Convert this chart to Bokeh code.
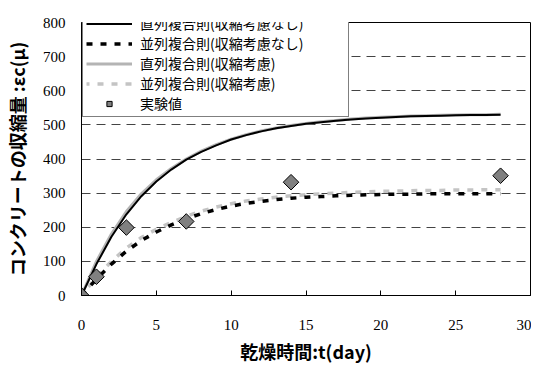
import numpy as np
from bokeh.plotting import figure
from bokeh.models import Legend, LegendItem, FixedTicker
from bokeh.embed import file_html
from bokeh.resources import INLINE

days = list(range(29))
series_no_shrink = [0, 92, 172, 238, 291, 334, 369, 398, 421, 440, 457, 470, 481, 490, 497,
                    503, 508, 512, 516, 519, 521, 523, 525, 526, 527, 528, 529, 529, 530]
parallel_no_shrink = [0, 48, 92, 130, 161, 186, 207, 225, 240, 252, 262, 270, 276, 281, 285,
                      288, 290, 292, 294, 295, 296, 297, 297, 298, 298, 298, 298, 298, 298]
series_shrink = [0, 100, 180, 246, 298, 339, 372, 400, 423, 442, 458, 471, 482, 491, 498,
                 504, 509, 513, 517, 520, 522, 524, 526, 527, 528, 529, 530, 530, 531]
parallel_shrink = [0, 54, 100, 139, 170, 194, 214, 232, 247, 259, 269, 277, 283, 288, 292,
                   295, 298, 300, 302, 304, 305, 306, 307, 308, 308, 309, 309, 310, 310]
exp_days = [0, 1, 3, 7, 14, 28]
exp_vals = [0, 55, 199, 217, 332, 351]

labels = ["直列複合則(収縮考慮なし)", "並列複合則(収縮考慮なし)",
          "直列複合則(収縮考慮)", "並列複合則(収縮考慮)", "実験値"]

p = figure(width=531, height=366, output_backend="svg", toolbar_location=None,
           x_range=(0, 30), y_range=(0, 800),
           min_border_left=75, min_border_right=1, min_border_top=22, min_border_bottom=70)

p.outline_line_color = "black"
p.outline_line_width = 1
p.background_fill_color = "white"
p.border_fill_color = "white"

p.xgrid.grid_line_color = None
p.ygrid.grid_line_color = "#444444"
p.ygrid.grid_line_dash = "9 6"
p.ygrid.grid_line_width = 1
p.ygrid.ticker = FixedTicker(ticks=[100, 200, 300, 400, 500, 600, 700])

p.xaxis.ticker = FixedTicker(ticks=[0, 5, 10, 15, 20, 25, 30])
p.yaxis.ticker = FixedTicker(ticks=[0, 100, 200, 300, 400, 500, 600, 700, 800])

for ax in (p.xaxis[0], p.yaxis[0]):
    ax.axis_line_color = "black"
    ax.axis_line_width = 1
    ax.major_label_text_font = "Liberation Serif"
    ax.major_label_text_font_size = "15px"
    ax.major_label_text_color = "black"
    ax.minor_tick_line_color = None
    ax.axis_label_text_font = "Noto Sans CJK JP"
    ax.axis_label_text_font_size = "18px"
    ax.axis_label_text_font_style = "bold"
    ax.axis_label_text_color = "black"

p.xaxis.major_tick_in = 5
p.xaxis.major_tick_out = 0
p.xaxis.major_tick_line_color = "black"
p.xaxis.major_label_standoff = 24
p.xaxis.axis_label = "乾燥時間:t(day)"
p.xaxis.axis_label_standoff = 5

p.yaxis.major_tick_in = 0
p.yaxis.major_tick_out = 0
p.yaxis.major_label_standoff = 16
p.yaxis.axis_label = "コンクリートの収縮量 :εc(μ)"
p.yaxis.axis_label_standoff = 10

r_gs = p.line(days, series_shrink, line_color="#b4b4b4", line_width=3)
r_gp = p.line(days, parallel_shrink, line_color="#c4c4c4", line_width=3.5, line_dash="6 8",
              line_dash_offset=3)
r_bs = p.line(days, series_no_shrink, line_color="black", line_width=2)
r_bp = p.line(days, parallel_no_shrink, line_color="black", line_width=3.5, line_dash="6 8")
r_ex = p.scatter(exp_days, exp_vals, marker="square", angle=np.pi / 4, size=11,
                 fill_color="#808080", line_color="black", line_width=1)

legend = Legend(items=[
    LegendItem(label=labels[0], renderers=[r_bs]),
    LegendItem(label=labels[1], renderers=[r_bp]),
    LegendItem(label=labels[2], renderers=[r_gs]),
    LegendItem(label=labels[3], renderers=[r_gp]),
    LegendItem(label=labels[4], renderers=[r_ex]),
], location=(1, 178))
legend.label_text_font = "Noto Sans CJK JP"
legend.label_text_font_size = "14px"
legend.label_text_color = "black"
legend.glyph_width = 46
legend.glyph_height = 13
legend.label_height = 13
legend.label_width = 205
legend.spacing = 0
legend.padding = 3
legend.margin = 0
legend.label_standoff = 8
legend.border_line_color = "black"
legend.border_line_width = 1
legend.background_fill_color = "white"
legend.background_fill_alpha = 1
p.add_layout(legend, "center")

open("out.html", "w").write(file_html(p, INLINE))
